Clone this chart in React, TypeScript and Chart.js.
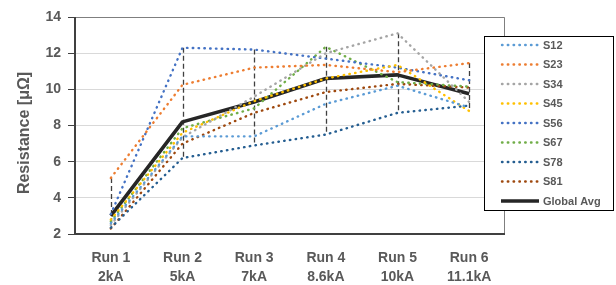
import React, { useEffect, useRef } from 'react';
import { Chart, registerables } from 'chart.js';
Chart.register(...registerables);

const categories = [
  ['Run 1', '2kA'],
  ['Run 2', '5kA'],
  ['Run 3', '7kA'],
  ['Run 4', '8.6kA'],
  ['Run 5', '10kA'],
  ['Run 6', '11.1kA'],
];
const seriesNames = ['S12', 'S23', 'S34', 'S45', 'S56', 'S67', 'S78', 'S81'];
const s12 = [2.6, 7.4, 7.4, 9.2, 10.2, 9.0];
const s23 = [5.1, 10.25, 11.2, 11.35, 10.95, 11.45];
const s34 = [2.5, 7.35, 9.6, 12.0, 13.1, 9.3];
const s45 = [2.8, 7.6, 9.35, 10.6, 11.35, 8.8];
const s56 = [3.1, 12.3, 12.2, 11.7, 11.2, 10.5];
const s67 = [2.7, 7.85, 8.95, 12.35, 10.4, 10.15];
const s78 = [2.35, 6.2, 6.9, 7.5, 8.7, 9.1];
const s81 = [2.3, 7.0, 8.7, 9.85, 10.3, 10.1];
const globalAvg = [3.0, 8.2, 9.3, 10.6, 10.8, 9.75];
const avgName = 'Global Avg';
const yMin = 2;
const yMax = 14;
const yStep = 2;
const yTitle = 'Resistance [μΩ]';

const seriesValues = [s12, s23, s34, s45, s56, s67, s78, s81];
const seriesColors = ['#5B9BD5', '#ED7D31', '#A5A5A5', '#FFC000', '#4472C4', '#70AD47', '#255E91', '#9E480E'];
const FONT = "'Liberation Sans', Arial, sans-serif";
const TEXT = '#595959';
const DOT = [0.5, 5.3];

const framePlugin = {
  id: 'frame',
  beforeDatasetsDraw(chart: any) {
    const { ctx, chartArea: a } = chart;
    const x = chart.scales.x;
    const y = chart.scales.y;
    // high-low lines
    const series = chart.data.datasets.filter((d: any) => !d.isAvg);
    ctx.save();
    ctx.strokeStyle = '#404040';
    ctx.lineWidth = 1.3;
    ctx.setLineDash([5, 3]);
    categories.forEach((_, i) => {
      const vals = series.map((d: any) => d.data[i]);
      const hi = Math.max(...vals);
      const lo = Math.min(...vals);
      const px = Math.round(x.getPixelForValue(i)) + 0.5;
      ctx.beginPath();
      ctx.moveTo(px, y.getPixelForValue(hi));
      ctx.lineTo(px, y.getPixelForValue(lo));
      ctx.stroke();
    });
    ctx.setLineDash([]);
    // frame
    ctx.strokeStyle = '#7F7F7F';
    ctx.lineWidth = 1;
    ctx.beginPath();
    ctx.moveTo(a.left, a.top + 0.5);
    ctx.lineTo(a.right - 0.5, a.top + 0.5);
    ctx.lineTo(a.right - 0.5, a.bottom);
    ctx.stroke();
    ctx.strokeStyle = '#404040';
    ctx.lineWidth = 2;
    ctx.beginPath();
    ctx.moveTo(a.left, a.top);
    ctx.lineTo(a.left, a.bottom);
    ctx.lineTo(a.right, a.bottom);
    ctx.stroke();
    ctx.restore();
  },
  afterDraw(chart: any) {
    const { ctx, chartArea: a } = chart;
    ctx.save();
    // y title
    ctx.fillStyle = TEXT;
    ctx.font = `bold 16px ${FONT}`;
    ctx.textAlign = 'center';
    ctx.textBaseline = 'middle';
    ctx.translate(25, 133);
    ctx.rotate(-Math.PI / 2);
    ctx.fillText(yTitle, 0, 0);
    ctx.restore();
    // legend
    ctx.save();
    const bx = 484, by = 36, bw = 129, bh = 174;
    ctx.fillStyle = '#fff';
    ctx.fillRect(bx, by, bw, bh);
    ctx.strokeStyle = '#000';
    ctx.lineWidth = 1;
    ctx.strokeRect(bx + 0.5, by + 0.5, bw, bh);
    chart.data.datasets.forEach((d: any, i: number) => {
      const ly = 45 + i * 19.5;
      ctx.strokeStyle = d.borderColor;
      ctx.lineWidth = d.borderWidth;
      ctx.lineCap = d.isAvg ? 'butt' : 'round';
      ctx.setLineDash(d.isAvg ? [] : DOT);
      ctx.beginPath();
      ctx.moveTo(d.isAvg ? 501 : 502, ly);
      ctx.lineTo(539, ly);
      ctx.stroke();
      ctx.setLineDash([]);
      ctx.fillStyle = TEXT;
      ctx.font = `bold 11px ${FONT}`;
      ctx.textAlign = 'left';
      ctx.textBaseline = 'middle';
      ctx.fillText(d.label, 543, ly + 0.5);
    });
    ctx.restore();
  },
};

export default function App() {
  const ref = useRef<HTMLCanvasElement>(null);
  useEffect(() => {
    if (!ref.current) return;
    const datasets: any[] = seriesNames.map((name, i) => ({
      label: name,
      data: seriesValues[i],
      borderColor: seriesColors[i],
      backgroundColor: seriesColors[i],
      borderWidth: 2.4,
      borderDash: DOT,
      borderCapStyle: 'round',
      pointRadius: 0,
      fill: false,
      tension: 0,
      isAvg: false,
    }));
    datasets.push({
      label: avgName,
      data: globalAvg,
      borderColor: '#262626',
      backgroundColor: '#262626',
      borderWidth: 3.6,
      borderCapStyle: 'butt',
      borderJoinStyle: 'round',
      pointRadius: 0,
      fill: false,
      tension: 0,
      isAvg: true,
    });
    const chart = new Chart(ref.current, {
      type: 'line',
      data: { labels: categories as any, datasets },
      options: {
        responsive: false,
        animation: false,
        devicePixelRatio: 1,
        layout: { padding: { top: 17, right: 111, bottom: 0, left: 0 } },
        plugins: { legend: { display: false }, tooltip: { enabled: false } },
        scales: {
          x: {
            type: 'category',
            offset: true,
            grid: { display: false, drawTicks: false },
            border: { display: false },
            ticks: {
              color: TEXT,
              font: { family: FONT, size: 14, weight: 'bold', lineHeight: 1.4 },
              padding: 14,
              maxRotation: 0,
              autoSkip: false,
            },
            afterFit: (s: any) => { s.height = 51; },
          },
          y: {
            min: yMin,
            max: yMax,
            grid: { color: '#D9D9D9', lineWidth: 1, tickLength: 7, tickColor: '#404040', drawTicks: true },
            border: { display: false },
            ticks: {
              stepSize: yStep,
              color: TEXT,
              font: { family: FONT, size: 14, weight: 'bold' },
              padding: 7,
            },
            afterFit: (s: any) => { s.width = 75; },
          },
        },
      },
      plugins: [framePlugin],
    } as any);
    return () => chart.destroy();
  }, []);
  return (
    <div style={{ position: 'fixed', left: 0, top: 0, width: 616, height: 285, background: '#fff' }}>
      <canvas ref={ref} width={616} height={285} style={{ display: 'block', width: 616, height: 285 }} />
    </div>
  );
}
